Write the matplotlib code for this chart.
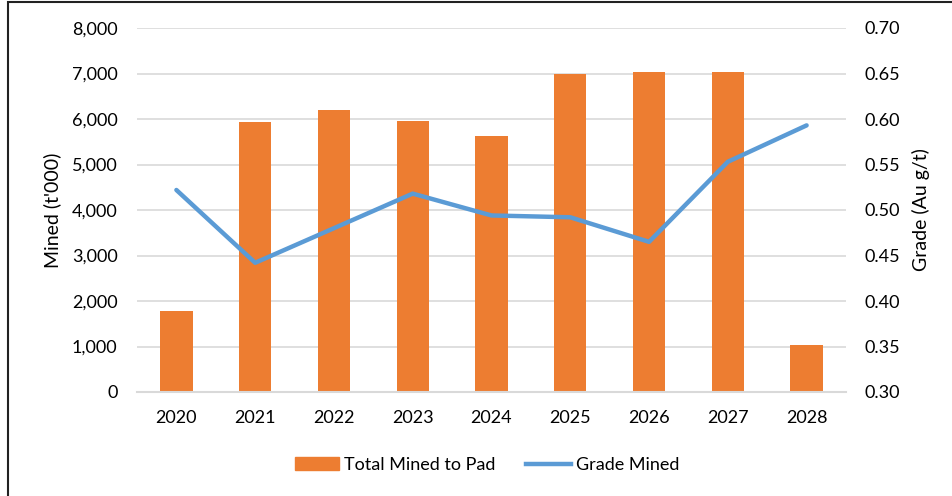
import matplotlib

matplotlib.use("Agg")
import matplotlib.pyplot as plt
from matplotlib.lines import Line2D
from matplotlib.patches import Patch, Rectangle
from matplotlib.ticker import FuncFormatter

plt.rcParams["font.family"] = ["Lato", "DejaVu Sans"]

years = ["2020", "2021", "2022", "2023", "2024", "2025", "2026", "2027", "2028"]
mined_kt = [1780, 5940, 6200, 5960, 5630, 7000, 7030, 7040, 1030]
grade_au = [0.522, 0.442, 0.480, 0.518, 0.494, 0.492, 0.465, 0.553, 0.593]

BAR_COLOR = "#ED7D31"
LINE_COLOR = "#5B9BD5"
GRID_COLOR = "#D9D9D9"
FS = 13

fig = plt.figure(figsize=(9.53, 4.96), dpi=100)
ax = fig.add_axes([137 / 953, 1 - 392 / 496, (846 - 137) / 953, (392 - 28) / 496])
ax2 = ax.twinx()

x = range(len(years))
ax.bar(x, mined_kt, width=0.41, color=BAR_COLOR, zorder=2)
ax2.plot(x, grade_au, color=LINE_COLOR, lw=3.2, solid_capstyle="round", zorder=3)

ax.set_xlim(-0.5, len(years) - 0.5)
ax.set_ylim(0, 8000)
ax.set_yticks(range(0, 8001, 1000))
ax.yaxis.set_major_formatter(FuncFormatter(lambda v, p: f"{v:,.0f}"))
ax2.set_ylim(0.30, 0.70)
ax2.set_yticks([0.30, 0.35, 0.40, 0.45, 0.50, 0.55, 0.60, 0.65, 0.70])
ax2.yaxis.set_major_formatter(FuncFormatter(lambda v, p: f"{v:.2f}"))

ax.set_xticks(list(x))
ax.set_xticklabels(years)
ax.grid(axis="y", color=GRID_COLOR, lw=1.2, zorder=0)
ax.set_axisbelow(True)

for a in (ax, ax2):
    for s in a.spines.values():
        s.set_visible(False)
    a.tick_params(length=0, labelsize=FS, colors="black")
ax.spines["bottom"].set_visible(True)
ax.spines["bottom"].set_color(GRID_COLOR)
ax.spines["bottom"].set_linewidth(1.5)
ax.tick_params(axis="y", pad=14)
ax.tick_params(axis="x", pad=13)
ax2.tick_params(axis="y", pad=13)

ax.set_ylabel("Mined (t'000)", fontsize=FS + 1)
ax.yaxis.set_label_coords(-0.107, 0.5)
ax2.set_ylabel("Grade (Au g/t)", fontsize=FS + 1)
ax2.yaxis.set_label_coords(1.093, 0.5)

handles = [
    Patch(color=BAR_COLOR, label="Total Mined to Pad"),
    Line2D([0], [0], color=LINE_COLOR, lw=3.2, label="Grade Mined"),
]
fig.legend(handles=handles, loc="center", bbox_to_anchor=(487 / 953, 1 - 465 / 496), ncol=2,
           frameon=False, fontsize=FS, handlelength=2.45, columnspacing=1.7, handletextpad=0.3)

# chart frame: only left and top edges fall inside the image
fig.patches.append(Rectangle((8 / 953, -0.05), 1.1, 1.05 - 2 / 496,
                             transform=fig.transFigure, fill=False, edgecolor="#222222", lw=1.5))

fig.savefig("out.png", dpi=100)
